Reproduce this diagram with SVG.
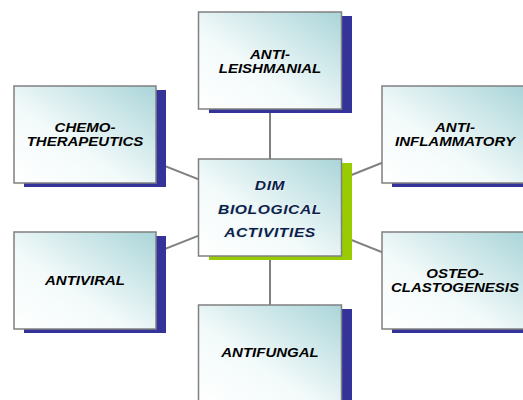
<svg xmlns="http://www.w3.org/2000/svg" width="523" height="400" viewBox="0 0 523 400">
<defs>
<linearGradient id="fill" x1="0" y1="1" x2="1" y2="0">
<stop offset="0" stop-color="#ffffff"/>
<stop offset="0.4" stop-color="#f3fafa"/>
<stop offset="1" stop-color="#aad5d9"/>
</linearGradient>
</defs>
<style>
.box{fill:url(#fill);stroke:#808080;stroke-width:1.5}
.sh{fill:#333399}
.shg{fill:#99cc00}
.lbl{font-family:"Liberation Sans",Arial,sans-serif;font-weight:bold;font-style:italic;font-size:12.5px;fill:#000;text-anchor:middle}
.ctr{font-family:"Liberation Sans",Arial,sans-serif;font-weight:bold;font-style:italic;font-size:13px;fill:#0c1f4a;text-anchor:middle;letter-spacing:0.5px;stroke:#e6f2f4;stroke-width:1.6;paint-order:stroke;stroke-linejoin:round}
.con{stroke:#808080;stroke-width:2;fill:none}
</style>
<rect width="523" height="400" fill="#ffffff"/>
<g id="connectors">
<line class="con" x1="270" y1="60" x2="270" y2="353"/>
<line class="con" x1="85" y1="134.5" x2="270" y2="207.5"/>
<line class="con" x1="85" y1="280.5" x2="270" y2="207.5"/>
<line class="con" x1="453" y1="134.5" x2="270" y2="207.5"/>
<line class="con" x1="453" y1="280.5" x2="270" y2="207.5"/>
</g>
<g id="anti-leishmanial">
<rect class="sh" x="209" y="16" width="143" height="97"/>
<rect class="box" x="198.5" y="12" width="143" height="97"/>
<text class="lbl" transform="translate(270,58.5) scale(1.2,1)">ANTI-</text>
<text class="lbl" transform="translate(270,72.5) scale(1.2,1)">LEISHMANIAL</text>
</g>
<g id="chemotherapeutics">
<rect class="sh" x="24" y="90" width="142" height="97"/>
<rect class="box" x="14" y="86" width="142" height="97"/>
<text class="lbl" transform="translate(85,132) scale(1.2,1)">CHEMO-</text>
<text class="lbl" transform="translate(85,146) scale(1.2,1)">THERAPEUTICS</text>
</g>
<g id="antiviral">
<rect class="sh" x="24" y="236" width="142" height="97"/>
<rect class="box" x="14" y="232" width="142" height="97"/>
<text class="lbl" transform="translate(85,284.5) scale(1.2,1)">ANTIVIRAL</text>
</g>
<g id="anti-inflammatory">
<rect class="sh" x="392" y="90" width="142" height="97"/>
<rect class="box" x="382" y="86" width="142" height="97"/>
<text class="lbl" transform="translate(455,132) scale(1.2,1)">ANTI-</text>
<text class="lbl" transform="translate(455,146) scale(1.2,1)">INFLAMMATORY</text>
</g>
<g id="osteoclastogenesis">
<rect class="sh" x="392" y="236" width="142" height="97"/>
<rect class="box" x="382" y="232" width="142" height="97"/>
<text class="lbl" transform="translate(455,277.5) scale(1.2,1)">OSTEO-</text>
<text class="lbl" transform="translate(455,291.5) scale(1.2,1)">CLASTOGENESIS</text>
</g>
<g id="antifungal">
<rect class="sh" x="209" y="309" width="143" height="97"/>
<rect class="box" x="198.5" y="305" width="143" height="97"/>
<text class="lbl" transform="translate(270,357) scale(1.2,1)">ANTIFUNGAL</text>
</g>
<g id="dim-biological-activities">
<rect class="shg" x="209" y="163" width="143" height="97"/>
<rect class="box" x="198.5" y="159" width="143" height="97"/>
<text class="ctr" transform="translate(270,190) scale(1.2,1)">DIM</text>
<text class="ctr" transform="translate(270,213.5) scale(1.2,1)">BIOLOGICAL</text>
<text class="ctr" transform="translate(270,237) scale(1.2,1)">ACTIVITIES</text>
</g>
</svg>
